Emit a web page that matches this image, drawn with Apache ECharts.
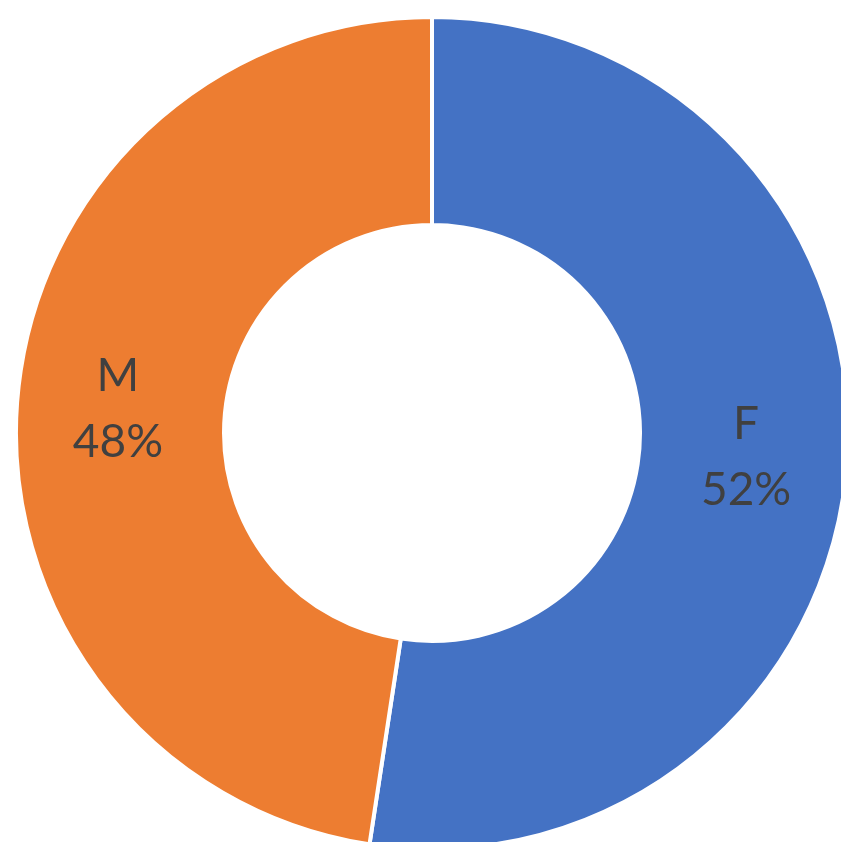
<!DOCTYPE html>
<html>
<head>
<meta charset="utf-8">
<script src="https://cdn.jsdelivr.net/npm/echarts@6/dist/echarts.min.js"></script>
<style>
  html, body { margin: 0; padding: 0; background: #fff; }
  #main { width: 841px; height: 842px; }
</style>
</head>
<body>
<div id="main"></div>
<script>
var chart = echarts.init(document.getElementById('main'));

// gender split
var categories = ['F', 'M'];
var values = [52.4, 47.6];
var colors = ['#4472C4', '#ED7D31'];

var data = categories.map(function (c, i) {
    return { name: c, value: values[i], itemStyle: { color: colors[i] } };
});

var option = {
    backgroundColor: '#ffffff',
    animation: false,
    series: [{
        type: 'pie',
        center: [432, 433],
        radius: [208, 416],
        startAngle: 90,
        clockwise: true,
        data: data,
        itemStyle: {
            borderColor: '#ffffff',
            borderWidth: 4
        },
        label: {
            show: true,
            position: 'inside',
            fontFamily: 'Lato',
            fontSize: 46,
            lineHeight: 66,
            color: '#404040',
            formatter: function (p) {
                return p.name + '\n' + Math.round(p.percent) + '%';
            }
        },
        labelLine: { show: false }
    }]
};

chart.setOption(option);
</script>
</body>
</html>
